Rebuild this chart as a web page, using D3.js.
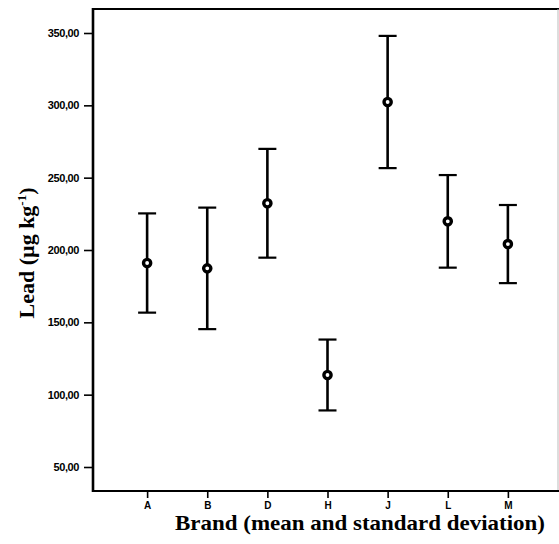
<!DOCTYPE html>
<html>
<head>
<meta charset="utf-8">
<script src="https://cdn.jsdelivr.net/npm/d3@7"></script>
<style>
  html, body { margin: 0; padding: 0; background: #fff; }
  svg { display: block; }
</style>
</head>
<body>
<svg id="chart" width="559" height="544"></svg>
<script>
// Lead content per brand: mean and standard deviation (µg kg-1)
const brands = ["A", "B", "D", "H", "J", "L", "M"];
const means  = [191.0, 187.3, 232.3, 113.6, 302.3, 219.8, 204.1];
const sds    = [34.3, 42.0, 37.6, 24.5, 45.7, 32.0, 27.0];
const yTicks = [50, 100, 150, 200, 250, 300, 350];

const svg = d3.select("#chart");
const plotLeft = 93, plotRight = 558, plotTop = 9, plotBottom = 491;

const x = d3.scalePoint().domain(brands).range([plotLeft, 562]).padding(0.9);
const y = d3.scaleLinear().domain([50, 350]).range([467, 33]);

const comma = d3.formatLocale({decimal: ",", thousands: ".", grouping: [3], currency: ["", ""]}).format(".2f");

// frame
svg.append("line").attr("x1", plotLeft).attr("x2", 559).attr("y1", plotTop).attr("y2", plotTop)
  .attr("stroke", "#000").attr("stroke-width", 2.2);
svg.append("line").attr("x1", plotRight).attr("x2", plotRight).attr("y1", plotTop).attr("y2", plotBottom)
  .attr("stroke", "#bbb").attr("stroke-width", 1);

// y axis
const yAxis = svg.append("g").attr("transform", `translate(${plotLeft},0)`)
  .call(d3.axisLeft(y).tickValues(yTicks).tickFormat(comma).tickSize(9).tickSizeOuter(0));
yAxis.select(".domain").remove();
yAxis.append("line").attr("x1", 0).attr("x2", 0).attr("y1", plotTop - 1).attr("y2", plotBottom + 1)
  .attr("stroke", "#000").attr("stroke-width", 2.6);
yAxis.selectAll(".tick line").attr("stroke", "#000").attr("stroke-width", 1.6);
yAxis.selectAll(".tick text")
  .attr("x", -14)
  .attr("font-family", "Liberation Sans, Arial, sans-serif")
  .attr("font-size", 11).attr("font-weight", "bold")
  .attr("letter-spacing", -0.4)
  .attr("fill", "#000");

// x axis
const xAxis = svg.append("g").attr("transform", `translate(0,${plotBottom})`)
  .call(d3.axisBottom(x).tickSize(7).tickSizeOuter(0));
xAxis.select(".domain").remove();
xAxis.append("line").attr("x1", plotLeft).attr("x2", 559).attr("y1", 0).attr("y2", 0)
  .attr("stroke", "#000").attr("stroke-width", 2.2);
xAxis.selectAll(".tick line").attr("stroke", "#000").attr("stroke-width", 1.6);
xAxis.selectAll(".tick text")
  .attr("y", 11)
  .attr("font-family", "Liberation Sans, Arial, sans-serif")
  .attr("font-size", 10).attr("font-weight", "bold")
  .attr("fill", "#000");

// error bars: mean ± sd
const rows = brands.map((b, i) => ({b, m: means[i], s: sds[i]}));
const capHalf = 9;
const g = svg.append("g").attr("stroke", "#000");
const bars = g.selectAll("g.bar").data(rows).join("g").attr("class", "bar");
bars.append("line")
  .attr("x1", d => x(d.b)).attr("x2", d => x(d.b))
  .attr("y1", d => y(d.m + d.s)).attr("y2", d => y(d.m - d.s))
  .attr("stroke-width", 2.6);
bars.append("line")
  .attr("x1", d => x(d.b) - capHalf).attr("x2", d => x(d.b) + capHalf)
  .attr("y1", d => y(d.m + d.s)).attr("y2", d => y(d.m + d.s))
  .attr("stroke-width", 2.2);
bars.append("line")
  .attr("x1", d => x(d.b) - capHalf).attr("x2", d => x(d.b) + capHalf)
  .attr("y1", d => y(d.m - d.s)).attr("y2", d => y(d.m - d.s))
  .attr("stroke-width", 2.2);
bars.append("circle")
  .attr("cx", d => x(d.b)).attr("cy", d => y(d.m)).attr("r", 3.6)
  .attr("fill", "#fff").attr("stroke-width", 3.4);

// axis titles
svg.append("text")
  .attr("x", 360).attr("y", 530)
  .attr("text-anchor", "middle")
  .attr("font-family", "Liberation Serif, Times New Roman, serif")
  .attr("font-size", 21).attr("font-weight", "bold")
  .attr("textLength", 370).attr("lengthAdjust", "spacingAndGlyphs")
  .text("Brand (mean and standard deviation)");

const yt = svg.append("text")
  .attr("transform", "translate(34,253) rotate(-90)")
  .attr("text-anchor", "middle")
  .attr("font-family", "Liberation Serif, Times New Roman, serif")
  .attr("font-size", 22).attr("font-weight", "bold");
yt.append("tspan").text("Lead (\u00b5g kg");
yt.append("tspan").attr("dy", -8).attr("font-size", 13).text("-1");
yt.append("tspan").attr("dy", 8).text(")");
</script>
</body>
</html>
